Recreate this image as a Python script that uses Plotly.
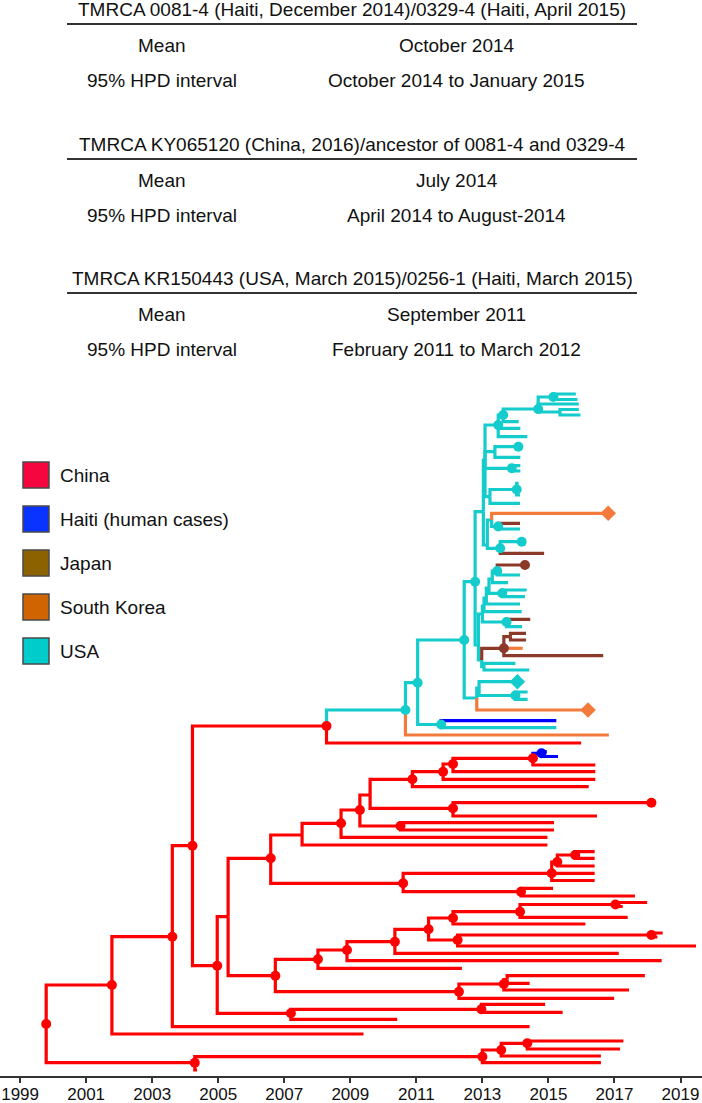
import plotly.graph_objects as go

# ---- summary table above the tree ----
table_titles = [
    "TMRCA 0081-4 (Haiti, December 2014)/0329-4 (Haiti, April 2015)",
    "TMRCA KY065120 (China, 2016)/ancestor of 0081-4 and 0329-4",
    "TMRCA KR150443 (USA, March 2015)/0256-1 (Haiti, March 2015)",
]
table_means = ["October 2014", "July 2014", "September 2011"]
table_hpd = ["October 2014 to January 2015", "April 2014 to August-2014",
             "February 2011 to March 2012"]
row_labels = ["Mean", "95% HPD interval"]

# ---- legend ----
legend_labels = ["China", "Haiti (human cases)", "Japan", "South Korea", "USA"]
legend_colors = ["#f5063f", "#0a33ff", "#8c6100", "#d06400", "#00cccc"]

year_ticks = list(range(1999, 2020, 2))

# ---- tree: (node, parent, year, row, country, marker) ----
china_base = [
    ("root", None, 1999.79, 1024, "CN", "o"),
    ("G", "root", 2001.78, 985, "CN", "o"),
    ("t_G", "G", 2009.40, 1034, "CN", ""),
    ("P", "G", 2003.61, 936.7, "CN", "o"),
    ("t_P", "P", 2014.43, 1026.7, "CN", ""),
    ("Q", "P", 2004.22, 845.7, "CN", "o"),
    ("R2", "Q", 2008.28, 726, "CN", "o"),
    ("t_R2", "R2", 2015.99, 743, "CN", ""),
    ("S", "Q", 2004.97, 965.7, "CN", "o"),
    ("T", "S", 2005.30, 916.7, "CN", ""),
    ("U", "S", 2007.20, 1013.3, "CN", "o"),
    ("U1", "U", 2012.97, 1009.3, "CN", "o"),
    ("t_U1a", "U1", 2014.90, 1004.3, "CN", ""),
    ("t_U1b", "U1", 2015.43, 1012.3, "CN", ""),
    ("t_U", "U", 2010.42, 1019.3, "CN", ""),
    ("R0", "root", 2004.29, 1062.7, "CN", "o"),
    ("t_R0", "R0", 2004.36, 1070, "CN", ""),
    ("BA", "R0", 2013.00, 1056.7, "CN", "o"),
    ("t_BA", "BA", 2016.59, 1062.7, "CN", ""),
    ("BB", "BA", 2013.57, 1050, "CN", "o"),
    ("t_BB", "BB", 2016.59, 1056, "CN", ""),
    ("BC", "BB", 2014.36, 1043.3, "CN", "o"),
    ("t_BCa", "BC", 2017.27, 1041, "CN", ""),
    ("t_BCb", "BC", 2017.17, 1049, "CN", ""),
]

china_upper = [
    ("V", "T", 2006.59, 858.3, "CN", "o"),
    ("X", "V", 2007.54, 835, "CN", ""),
    ("t_X", "X", 2014.97, 845, "CN", ""),
    ("Y", "X", 2008.72, 823.3, "CN", "o"),
    ("t_Y", "Y", 2014.97, 837.3, "CN", ""),
    ("Z", "Y", 2009.29, 810, "CN", "o"),
    ("ZZ", "Z", 2010.52, 826, "CN", "o"),
    ("t_ZZa", "ZZ", 2015.17, 822.7, "CN", ""),
    ("t_ZZb", "ZZ", 2015.17, 830, "CN", ""),
    ("Z2", "Z", 2009.60, 795, "CN", ""),
    ("AA", "Z2", 2012.11, 808.3, "CN", "o"),
    ("AA2", "AA", 2018.12, 802.7, "CN", "o"),
    ("t_AA2a", "AA2", 2018.22, 800.5, "CN", ""),
    ("t_AA2b", "AA2", 2018.22, 805, "CN", ""),
    ("t_AA", "AA", 2016.47, 816, "CN", ""),
    ("AB", "Z2", 2010.88, 779.3, "CN", "o"),
    ("t_AB", "AB", 2016.22, 786.7, "CN", ""),
    ("AC", "AB", 2011.81, 771.7, "CN", "o"),
    ("t_AC", "AC", 2016.42, 779.3, "CN", ""),
    ("AD", "AC", 2012.11, 764, "CN", "o"),
    ("t_AD", "AD", 2016.42, 771.7, "CN", ""),
    ("AE", "AD", 2014.53, 758.3, "CN", "o"),
    ("t_AE", "AE", 2016.42, 765, "CN", ""),
    ("BL", "AE", 2014.79, 753.3, "HT", "o"),
    ("t_BLa", "BL", 2014.95, 751.5, "HT", ""),
    ("t_BLb", "BL", 2015.29, 756.5, "HT", ""),
    ("AF", "V", 2010.60, 883.3, "CN", "o"),
    ("AG", "AF", 2015.10, 873.3, "CN", "o"),
    ("AG1", "AG", 2015.27, 862, "CN", "o"),
    ("AG3", "AG1", 2015.81, 855, "CN", "o"),
    ("t_AG3a", "AG3", 2016.40, 851.7, "CN", ""),
    ("t_AG3b", "AG3", 2016.40, 858.3, "CN", ""),
    ("t_AG1", "AG1", 2016.40, 866, "CN", ""),
    ("t_AGa", "AG", 2016.40, 873.3, "CN", ""),
    ("t_AGb", "AG", 2016.40, 880.5, "CN", ""),
    ("AF2", "AF", 2014.17, 891.7, "CN", "o"),
    ("t_AF2a", "AF2", 2015.14, 888.3, "CN", ""),
    ("t_AF2b", "AF2", 2017.62, 896, "CN", ""),
]

china_lower = [
    ("W", "T", 2006.73, 975.7, "CN", "o"),
    ("AH", "W", 2008.02, 959.3, "CN", "o"),
    ("t_AH", "AH", 2012.38, 968.3, "CN", ""),
    ("AI", "AH", 2008.90, 950, "CN", "o"),
    ("t_AI", "AI", 2018.43, 960.7, "CN", ""),
    ("AJ", "AI", 2010.35, 941.7, "CN", "o"),
    ("t_AJ", "AJ", 2017.13, 953.3, "CN", ""),
    ("AK", "AJ", 2011.37, 929.3, "CN", "o"),
    ("AL", "AK", 2012.11, 918, "CN", "o"),
    ("t_AL", "AL", 2016.12, 924, "CN", ""),
    ("AM", "AL", 2014.14, 911.7, "CN", "o"),
    ("t_AM", "AM", 2017.40, 917.3, "CN", ""),
    ("AM2", "AM", 2017.03, 904.5, "CN", "o"),
    ("t_AM2a", "AM2", 2017.99, 902.5, "CN", ""),
    ("t_AM2b", "AM2", 2017.25, 906.5, "CN", ""),
    ("AK2", "AK", 2012.25, 940, "CN", "o"),
    ("AK3", "AK2", 2018.12, 935, "CN", "o"),
    ("t_AK3a", "AK3", 2018.46, 933, "CN", ""),
    ("t_AK3b", "AK3", 2018.30, 937, "CN", ""),
    ("t_AK2", "AK2", 2019.47, 946, "CN", ""),
    ("AN", "W", 2012.29, 991.7, "CN", "o"),
    ("AO", "AN", 2013.65, 984, "CN", "o"),
    ("AO2", "AO", 2013.75, 979.5, "CN", ""),
    ("t_AO2a", "AO2", 2017.92, 975.7, "CN", ""),
    ("t_AO2b", "AO2", 2014.43, 983.3, "CN", ""),
    ("t_AO", "AO", 2017.44, 990, "CN", ""),
    ("t_AN", "AN", 2016.99, 998.3, "CN", ""),
]

usa_base = [
    ("A", "R2", 2010.67, 710, "US", "o"),
    ("t_A", "A", 2016.83, 735, "KR", ""),
    ("B", "A", 2011.04, 682.7, "US", "o"),
    ("H", "B", 2011.75, 724.5, "US", "o"),
    ("t_Ha", "H", 2015.24, 720.7, "HT", ""),
    ("t_Hb", "H", 2015.24, 727.7, "US", ""),
    ("N1", "B", 2012.45, 640, "US", "o"),
    ("N3", "N1", 2012.83, 698, "US", ""),
    ("N4", "N3", 2012.90, 688, "US", ""),
    ("t_N4", "N4", 2014.06, 681.7, "US", "d"),
    ("N5", "N4", 2014.00, 695.5, "US", "o"),
    ("t_N5a", "N5", 2014.37, 692, "US", ""),
    ("t_N5b", "N5", 2014.37, 699.3, "US", ""),
    ("t_N3", "N3", 2016.20, 710, "KR", "d"),
    ("N2", "N1", 2012.78, 581.7, "US", "o"),
    ("L0", "N2", 2012.88, 645, "US", ""),
    ("L1", "L0", 2013.00, 614, "US", ""),
    ("J1", "L1", 2013.73, 622, "US", "o"),
    ("t_J1a", "J1", 2014.45, 619.3, "JP", ""),
    ("t_J1b", "J1", 2014.20, 626.7, "US", ""),
    ("H5", "L1", 2013.05, 606, "US", ""),
    ("t_H5", "H5", 2014.19, 611.7, "US", ""),
    ("H4", "H5", 2013.12, 598, "US", ""),
    ("t_H4", "H4", 2014.14, 604, "US", ""),
    ("H2", "H4", 2013.20, 588, "US", ""),
    ("H3", "H2", 2013.60, 593.3, "US", "o"),
    ("t_H3a", "H3", 2014.34, 590, "US", ""),
    ("t_H3b", "H3", 2014.29, 596.7, "US", ""),
    ("H0", "H2", 2013.30, 579, "US", ""),
    ("t_H0", "H0", 2013.78, 582.7, "US", ""),
    ("H1", "H0", 2013.45, 571, "US", "o"),
    ("t_H1a", "H1", 2014.29, 565, "JP", "o"),
    ("t_H1b", "H1", 2014.14, 575, "US", ""),
    ("K0", "L0", 2012.98, 660, "US", ""),
    ("K1", "K0", 2013.65, 648.3, "JP", "o"),
    ("K2", "K1", 2013.85, 636.7, "JP", ""),
    ("t_K2a", "K2", 2014.32, 633.3, "JP", ""),
    ("t_K2b", "K2", 2014.32, 640, "JP", ""),
    ("t_K1a", "K1", 2014.22, 648.3, "KR", ""),
    ("t_K1b", "K1", 2016.66, 655.7, "JP", ""),
    ("K3", "K0", 2013.05, 666.7, "US", ""),
    ("t_K3a", "K3", 2014.00, 663.3, "US", ""),
    ("t_K3b", "K3", 2014.42, 670, "US", ""),
]

usa_top = [
    ("M0", "N2", 2013.03, 511.7, "US", ""),
    ("M2", "M0", 2013.15, 545, "US", ""),
    ("F0", "M2", 2013.28, 520, "US", ""),
    ("t_F0", "F0", 2016.81, 513.3, "KR", "d"),
    ("F1", "F0", 2013.48, 526.5, "US", "o"),
    ("t_F1a", "F1", 2014.14, 523.3, "JP", ""),
    ("t_F1b", "F1", 2014.14, 529, "US", ""),
    ("G1", "M2", 2013.54, 548.3, "US", "o"),
    ("G2", "G1", 2014.19, 541.7, "US", "o"),
    ("t_G2a", "G2", 2014.30, 539.5, "US", ""),
    ("t_G2b", "G2", 2014.30, 544.5, "US", ""),
    ("t_G1", "G1", 2014.87, 553.3, "JP", ""),
    ("M1", "M0", 2013.08, 460, "US", ""),
    ("D3", "M1", 2013.48, 425, "US", "o"),
    ("D2", "D3", 2013.63, 415, "US", "o"),
    ("C1", "D2", 2014.69, 409, "US", "o"),
    ("C2", "C1", 2015.15, 397, "US", "o"),
    ("t_C2a", "C2", 2015.83, 394, "US", ""),
    ("t_C2b", "C2", 2015.88, 399.5, "US", ""),
    ("t_C1", "C1", 2015.92, 404, "US", ""),
    ("C4", "C1", 2015.35, 412, "US", ""),
    ("t_C4a", "C4", 2015.92, 409.5, "US", ""),
    ("t_C4b", "C4", 2015.97, 415, "US", ""),
    ("t_D2", "D2", 2014.10, 421.7, "US", ""),
    ("t_D3a", "D3", 2014.15, 428.3, "US", ""),
    ("t_D3b", "D3", 2014.36, 436.7, "US", ""),
    ("E0", "M1", 2013.38, 451.7, "US", ""),
    ("E1", "E0", 2014.09, 446.7, "US", "o"),
    ("t_E1a", "E1", 2014.15, 444, "US", ""),
    ("t_E1b", "E1", 2014.15, 449.5, "US", ""),
    ("t_E0", "E0", 2014.15, 457.3, "US", ""),
    ("E2", "M1", 2013.89, 468.3, "US", "o"),
    ("t_E2a", "E2", 2014.15, 465.7, "US", ""),
    ("t_E2b", "E2", 2014.15, 471, "US", ""),
    ("E4", "M1", 2013.23, 496.7, "US", ""),
    ("E3", "E4", 2014.04, 489.5, "US", "o"),
    ("t_E3a", "E3", 2014.10, 483.3, "US", ""),
    ("t_E3b", "E3", 2014.14, 495, "US", ""),
    ("t_E4", "E4", 2014.14, 503.3, "US", ""),
]

branch_colors = {"CN": "#ff0000", "US": "#15cccc", "JP": "#8b3a2a",
                 "KR": "#f47a3c", "HT": "#0000ff"}

W, H = 702, 1103
PLOT_BOTTOM = 1076          # pixel row of the time axis
FONT = "Liberation Sans, Arial, Helvetica, sans-serif"

nodes = china_base + china_upper + china_lower + usa_base + usa_top
pos = {n[0]: (n[2], n[3]) for n in nodes}

fig = go.Figure()

# branches, one trace per colour (elbow from parent to child)
for ctry in ["CN", "US", "JP", "KR", "HT"]:
    xs, ys = [], []
    for name, parent, yr, row, c, mark in nodes:
        if parent is None or c != ctry:
            continue
        px, py = pos[parent]
        xs += [px, px, yr, None]
        ys += [py, row, row, None]
    fig.add_trace(go.Scatter(x=xs, y=ys, mode="lines", hoverinfo="skip",
                             line=dict(color=branch_colors[ctry], width=3.2),
                             showlegend=False))

# node dots and tip diamonds
for ctry in ["CN", "US", "JP", "KR", "HT"]:
    for mark, sym, size in [("o", "circle", 10), ("d", "diamond", 12)]:
        pts = [(n[2], n[3]) for n in nodes if n[4] == ctry and n[5] == mark]
        if not pts:
            continue
        fig.add_trace(go.Scatter(
            x=[p[0] for p in pts], y=[p[1] for p in pts], mode="markers",
            marker=dict(symbol=sym, size=size, color=branch_colors[ctry], line=dict(width=0)),
            hoverinfo="skip", showlegend=False))

# table block
annotations = []
shapes = []
title_rows = [9, 144, 278]
for i, top in enumerate(title_rows):
    annotations.append(dict(x=352 / W, y=top, xref="paper", yref="y", text=table_titles[i],
                            showarrow=False, xanchor="center", yanchor="middle",
                            font=dict(size=19, color="#111", family=FONT)))
    shapes.append(dict(type="line", xref="paper", yref="y", x0=67 / W, x1=637 / W,
                       y0=top + 15, y1=top + 15, line=dict(color="#333", width=2)))
    for label, value, dy in [(row_labels[0], table_means[i], 36),
                             (row_labels[1], table_hpd[i], 71)]:
        annotations.append(dict(x=162 / W, y=top + dy, xref="paper", yref="y", text=label,
                                showarrow=False, xanchor="center", yanchor="middle",
                                font=dict(size=19, color="#111", family=FONT)))
        annotations.append(dict(x=457 / W, y=top + dy, xref="paper", yref="y", text=value,
                                showarrow=False, xanchor="center", yanchor="middle",
                                font=dict(size=19, color="#111", family=FONT)))

# legend swatches
for i, (lab, col) in enumerate(zip(legend_labels, legend_colors)):
    yc = 475 + 44 * i
    shapes.append(dict(type="rect", xref="paper", yref="y", x0=23 / W, x1=49 / W,
                       y0=yc - 13, y1=yc + 13, fillcolor=col,
                       line=dict(color="#4a4a4a", width=1.5)))
    annotations.append(dict(x=58 / W, y=yc, xref="paper", yref="y", text=lab,
                            showarrow=False, xanchor="left", yanchor="middle",
                            font=dict(size=19, color="#111", family=FONT)))

px_per_year = 33.02
x0_year = 1999 - 20.1 / px_per_year
x1_year = 1999 + (W - 20.1) / px_per_year

fig.update_layout(
    width=W, height=H,
    margin=dict(l=0, r=0, t=0, b=H - PLOT_BOTTOM),
    paper_bgcolor="white", plot_bgcolor="white",
    shapes=shapes, annotations=annotations,
    xaxis=dict(range=[x0_year, x1_year], tickvals=year_ticks,
               ticktext=[str(t) for t in year_ticks],
               ticks="outside", ticklen=5, tickwidth=1.5, tickcolor="#333",
               ticklabelstandoff=-3,
               showline=True, linecolor="#333", linewidth=1.5,
               showgrid=False, zeroline=False, automargin=False,
               tickfont=dict(size=17, color="#111", family=FONT)),
    yaxis=dict(range=[PLOT_BOTTOM, 0], visible=False, showgrid=False, zeroline=False),
)

# page body margin would shift the figure by 8px
fig.write_html("out.html", config={"displayModeBar": False},
               post_script="document.body.style.margin='0';")
